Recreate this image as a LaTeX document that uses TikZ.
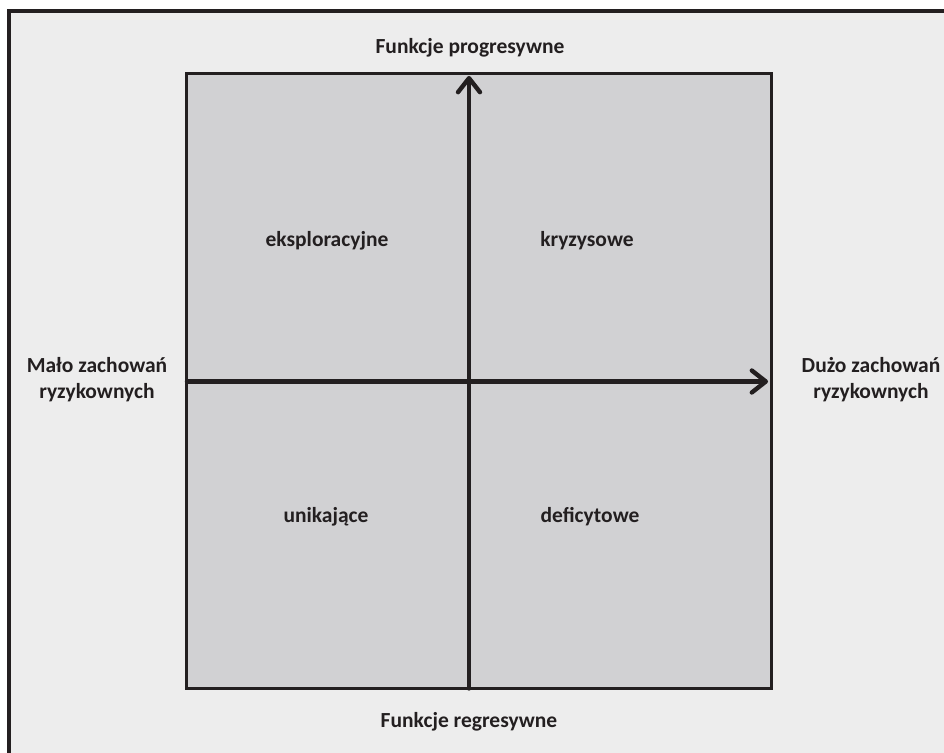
\documentclass[tikz,border=0pt]{standalone}
\usepackage{fontspec}
\setmainfont{Carlito}
\usetikzlibrary{arrows.meta}
\definecolor{outerfill}{HTML}{EDEDED}
\definecolor{innerfill}{HTML}{D1D1D3}
\definecolor{ink}{HTML}{231F20}
\tikzset{
  lbl/.style={font=\bfseries\fontsize{21.5}{26}\selectfont, text=ink, align=center, inner sep=0pt},
  axis/.style={draw=ink, line width=4.4pt, line cap=round,
    -{Straight Barb[length=14pt, width=22pt, line width=4.4pt, round]}},
}
\begin{document}
\begin{tikzpicture}[x=1pt,y=-1pt]
\useasboundingbox (0,0) rectangle (944,752);
\fill[white] (0,0) rectangle (944,752);
\draw[ink, fill=outerfill, line width=4pt] (8.5,11.5) rectangle (960,770);
\draw[ink, fill=innerfill, line width=3pt] (186.5,73) rectangle (771,688.5);
\coordinate (vb) at (469,688.5);
\coordinate (vt) at (469,76);
\coordinate (hl) at (187,381.5);
\coordinate (hr) at (768,381.5);
\draw[axis] (vb) -- (vt);
\draw[axis] (hl) -- (hr);
\node[lbl] (top) at (470,48) {Funkcje progresywne};
\node[lbl] (bot) at (469,722) {Funkcje regresywne};
\node[lbl] (left) at (97,380) {Mało zachowań\\ryzykownych};
\node[lbl] (right) at (871,380) {Dużo zachowań\\ryzykownych};
\node[lbl] (q1) at (327,241) {eksploracyjne};
\node[lbl] (q2) at (587,241) {kryzysowe};
\node[lbl] (q3) at (326,517) {unikające};
\node[lbl] (q4) at (590,517) {deficytowe};
\end{tikzpicture}
\end{document}
